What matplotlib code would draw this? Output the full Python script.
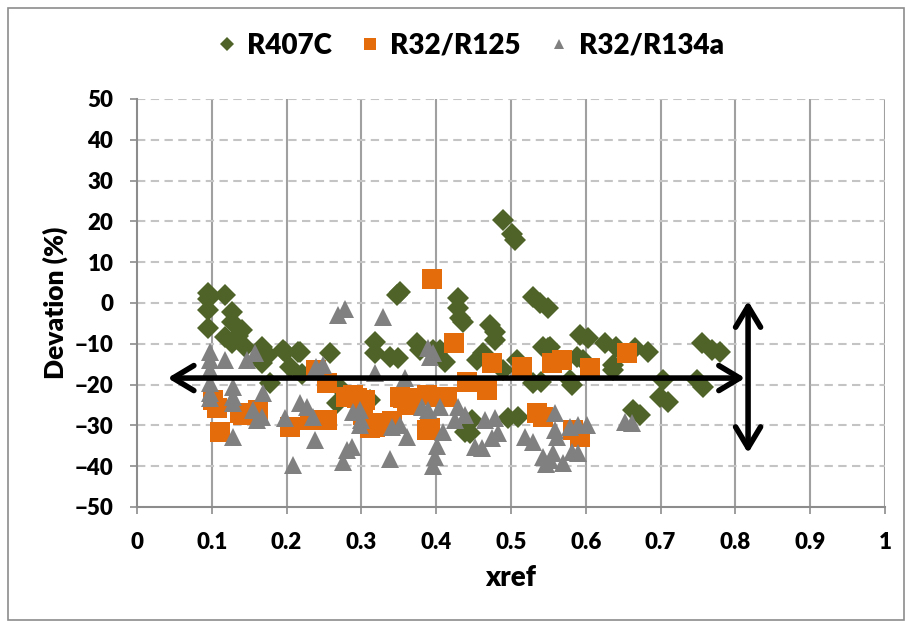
import matplotlib
matplotlib.use("Agg")
import matplotlib.pyplot as plt
import numpy as np
from matplotlib.patches import Rectangle

plt.rcParams["font.family"] = ["Lato", "DejaVu Sans"]
plt.rcParams["font.weight"] = "heavy"

# R407C deviations
r407c_x = [0.095, 0.118, 0.095, 0.095, 0.095, 0.127, 0.127, 0.118, 0.127, 0.140,
           0.135, 0.144, 0.167, 0.175, 0.167, 0.178, 0.198, 0.195, 0.205, 0.215,
           0.218, 0.220, 0.258, 0.267, 0.270, 0.311, 0.318, 0.318, 0.338, 0.349,
           0.348, 0.352, 0.374, 0.378, 0.396, 0.405, 0.412, 0.429, 0.429, 0.432,
           0.436, 0.448, 0.438, 0.445, 0.454, 0.463, 0.472, 0.479, 0.479, 0.489,
           0.489, 0.501, 0.505, 0.496, 0.509, 0.508, 0.529, 0.539, 0.549, 0.543,
           0.550, 0.529, 0.540, 0.552, 0.579, 0.582, 0.588, 0.596, 0.592, 0.603,
           0.626, 0.641, 0.636, 0.636, 0.666, 0.683, 0.663, 0.672, 0.703, 0.699,
           0.710, 0.749, 0.757, 0.755, 0.769, 0.779]
r407c_y = [2.5, 2.0, 1.0, -1.7, -6.1, -2.2, -4.7, -8.3, -9.8, -6.6,
           -8.0, -10.8, -10.8, -12.7, -14.7, -19.6, -12.0, -11.5, -15.7, -12.0,
           -12.0, -17.5, -12.2, -24.5, -20.5, -23.8, -9.6, -12.3, -13.2, -13.5,
           2.0, 2.7, -9.8, -11.5, -11.5, -11.5, -14.4, 1.2, -1.2, -3.7,
           -4.6, -28.7, -31.6, -31.9, -14.0, -12.3, -5.4, -7.0, -9.0, -16.4,
           20.3, 17.0, 15.4, -28.2, -27.9, -14.0, 1.5, 0.0, -1.2, -10.8,
           -11.0, -19.6, -19.4, -10.8, -18.9, -20.1, -13.2, -14.0, -7.8, -8.6,
           -9.8, -10.8, -15.2, -16.4, -11.0, -12.0, -26.2, -27.5, -18.9, -23.0,
           -24.3, -18.9, -20.6, -9.8, -11.5, -12.0]

# R32/R125 deviations
r32_r125_x = [0.102, 0.107, 0.111, 0.138, 0.142, 0.162, 0.205, 0.231, 0.240, 0.254,
              0.254, 0.280, 0.289, 0.294, 0.302, 0.305, 0.311, 0.318, 0.329, 0.341,
              0.352, 0.356, 0.361, 0.369, 0.388, 0.388, 0.392, 0.394, 0.405, 0.414,
              0.424, 0.441, 0.468, 0.475, 0.515, 0.535, 0.543, 0.555, 0.568, 0.583,
              0.592, 0.606, 0.655]
r32_r125_y = [-23.8, -25.7, -31.6, -27.0, -27.5, -26.2, -30.4, -28.7, -16.4, -19.6,
              -28.7, -23.0, -22.5, -23.3, -27.5, -23.8, -30.6, -30.4, -29.4, -29.0,
              -23.0, -23.3, -25.0, -23.3, -22.5, -31.1, -30.6, 5.9, -23.0, -23.0,
              -9.8, -19.4, -21.3, -14.7, -15.7, -27.0, -27.9, -14.7, -14.0, -31.1,
              -32.8, -15.9, -12.3]

# R32/R134a deviations
r32_r134a_x = [0.098, 0.098, 0.098, 0.098, 0.098, 0.098, 0.118, 0.128, 0.128, 0.128,
               0.128, 0.147, 0.158, 0.168, 0.155, 0.167, 0.160, 0.198, 0.209, 0.218,
               0.227, 0.235, 0.238, 0.240, 0.249, 0.269, 0.278, 0.275, 0.281, 0.287,
               0.289, 0.298, 0.300, 0.298, 0.318, 0.329, 0.338, 0.341, 0.352, 0.358,
               0.361, 0.381, 0.389, 0.389, 0.392, 0.396, 0.398, 0.396, 0.401, 0.405,
               0.409, 0.425, 0.429, 0.438, 0.452, 0.461, 0.465, 0.475, 0.479, 0.483,
               0.519, 0.529, 0.543, 0.552, 0.547, 0.559, 0.559, 0.562, 0.556, 0.569,
               0.579, 0.590, 0.601, 0.581, 0.590, 0.652, 0.662]
r32_r134a_y = [-12.0, -14.0, -16.4, -19.6, -22.0, -23.3, -14.0, -20.6, -23.0, -24.5,
               -32.8, -14.0, -12.3, -22.0, -26.2, -27.9, -28.7, -28.2, -39.8, -24.5,
               -25.5, -27.9, -33.6, -15.7, -15.2, -2.9, -1.5, -39.0, -36.0, -35.3,
               -26.7, -26.2, -28.7, -29.9, -17.2, -3.4, -38.2, -30.4, -29.9, -18.5,
               -32.8, -25.5, -26.2, -11.0, -13.2, -12.3, -37.7, -40.0, -35.0, -25.5,
               -31.5, -28.7, -25.5, -27.5, -35.3, -35.5, -28.7, -33.0, -28.2, -31.9,
               -32.8, -34.0, -37.7, -38.5, -39.5, -27.0, -31.1, -32.8, -36.8, -39.2,
               -30.4, -29.9, -29.9, -36.5, -36.8, -29.2, -29.4]

series_names = ["R407C", "R32/R125", "R32/R134a"]
x_ticks = [0, 0.1, 0.2, 0.3, 0.4, 0.5, 0.6, 0.7, 0.8, 0.9, 1]
x_tick_labels = ["0", "0.1", "0.2", "0.3", "0.4", "0.5", "0.6", "0.7", "0.8", "0.9", "1"]
y_ticks = [-50, -40, -30, -20, -10, 0, 10, 20, 30, 40, 50]

# Mean-deviation band: horizontal span and vertical spread arrows
mean_dev = -18.4
span_x = (0.041, 0.813)
spread_x = 0.817
spread_y = (0.5, -36.8)

fig = plt.figure(figsize=(9.07, 6.21), dpi=100)
fig.patches.append(Rectangle((7.5 / 907, 1.5 / 621), 896 / 907, 611.5 / 621,
                             transform=fig.transFigure, fill=False,
                             edgecolor="#8c8c8c", linewidth=1.2))

ax = fig.add_axes([0.151, 0.1836, 0.8247, 0.657])
ax.set_xlim(0, 1)
ax.set_ylim(-50, 50)

# grid: solid verticals, dashed horizontals
for xv in x_ticks[1:]:
    ax.axvline(xv, color="#a0a0a0", lw=1.5, zorder=1)
for yv in y_ticks[1:]:
    ax.axhline(yv, color="#c4c4c4", lw=1.5, ls=(0, (4, 2.6)), zorder=1)

ax.plot(r407c_x, r407c_y, ls="none", marker="D", ms=11.5, color="#4F6228",
        mew=0, label=series_names[0], zorder=3)
ax.plot(r32_r125_x, r32_r125_y, ls="none", marker="s", ms=15, color="#E46C0A",
        mew=0, label=series_names[1], zorder=4)
ax.plot(r32_r134a_x, r32_r134a_y, ls="none", marker="^", ms=13, color="#808080",
        mew=0, label=series_names[2], zorder=5)

arrow_style = dict(arrowstyle="<->,head_length=0.75,head_width=0.45", lw=4,
                   color="black", shrinkA=0, shrinkB=0, mutation_scale=20)
ax.annotate("", xy=(span_x[1], mean_dev), xytext=(span_x[0], mean_dev),
            arrowprops=arrow_style, zorder=6)
ax.annotate("", xy=(spread_x, spread_y[1]), xytext=(spread_x, spread_y[0]),
            arrowprops=arrow_style, zorder=6)

for side in ("top", "right"):
    ax.spines[side].set_visible(False)
for side in ("left", "bottom"):
    ax.spines[side].set_color("#8c8c8c")
    ax.spines[side].set_linewidth(1.5)

ax.set_xticks(x_ticks)
ax.set_xticklabels(x_tick_labels)
ax.set_yticks(y_ticks)
ax.tick_params(axis="both", colors="#8c8c8c", length=5, width=1.2, labelcolor="black",
               labelsize=16)
ax.tick_params(axis="x", pad=13)
ax.tick_params(axis="y", pad=12)
for lbl in ax.get_xticklabels() + ax.get_yticklabels():
    lbl.set_fontweight("heavy")

ax.set_xlabel("xref", fontsize=20, fontweight="heavy", labelpad=9)
ax.set_ylabel("Devation (%)", fontsize=19, fontweight="heavy", labelpad=5)

leg = fig.legend(loc="center", bbox_to_anchor=(0.518, 0.926), ncol=3, frameon=False,
                 handlelength=0.8, handletextpad=0.3, columnspacing=1.0,
                 markerscale=0.6, prop={"weight": "heavy", "size": 20})

fig.savefig("out.png", dpi=100)
